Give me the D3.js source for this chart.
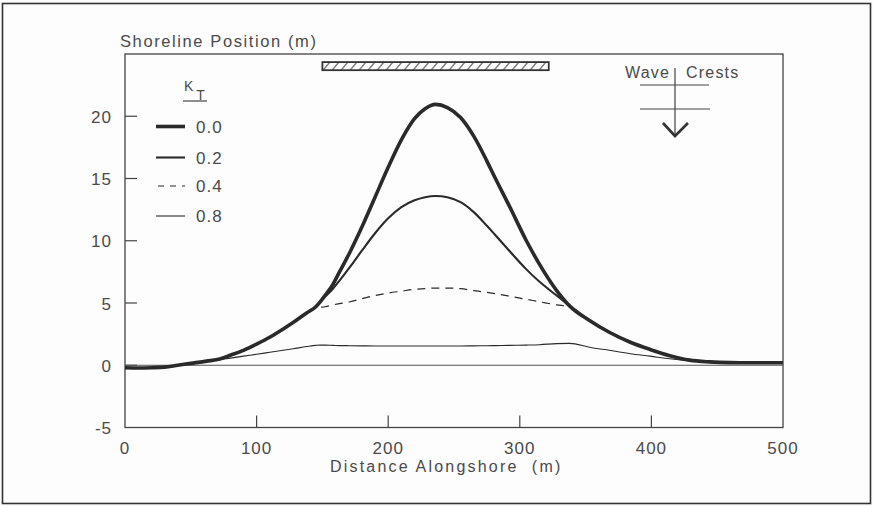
<!DOCTYPE html>
<html>
<head>
<meta charset="utf-8">
<script src="https://cdn.jsdelivr.net/npm/d3@7"></script>
<style>
  body { margin: 0; background: #fdfdfd; }
  text { font-family: "Liberation Sans", Arial, sans-serif; fill: #4a4a4a; }
</style>
</head>
<body>
<div id="chart"></div>
<script>
const width = 874;
const height = 506;

// Distance alongshore (m) where the shoreline was read
const xs = [0, 10, 20, 30, 40, 50, 62, 72, 80, 90, 100, 110, 120, 128, 138, 145, 148, 152, 158, 163,
  171, 180, 190, 200, 210, 220, 228, 236, 245, 255, 265, 275, 281, 292, 305, 315, 328, 338, 353, 368,
  384, 399, 414, 429, 444, 460, 480, 500];

// Shoreline position (m) for each transmission coefficient K_T
const k00 = [-0.2, -0.22, -0.2, -0.15, 0.0, 0.15, 0.33, 0.5, 0.8, 1.2, 1.7, 2.25, 2.9, 3.45, 4.2, 4.7, 5.05, 5.6, 6.5, 7.5,
  9.1, 11.1, 13.5, 15.9, 18.1, 19.8, 20.6, 20.95, 20.7, 19.9, 18.4, 16.4, 15.1, 12.8, 10.0, 8.1, 6.0, 4.75, 3.6, 2.65,
  1.85, 1.27, 0.77, 0.41, 0.27, 0.21, 0.2, 0.2];
const k02 = [-0.2, -0.22, -0.2, -0.15, 0.0, 0.15, 0.33, 0.5, 0.8, 1.2, 1.7, 2.25, 2.9, 3.45, 4.2, 4.7, 5.05, 5.5, 6.15, 6.8,
  7.9, 9.2, 10.6, 11.8, 12.7, 13.25, 13.5, 13.6, 13.5, 13.1, 12.3, 11.2, 10.5, 9.2, 7.7, 6.7, 5.6, 4.75, 3.6, 2.65,
  1.85, 1.27, 0.77, 0.41, 0.27, 0.21, 0.2, 0.2];
const k04 = [-0.2, -0.22, -0.2, -0.15, 0.0, 0.15, 0.33, 0.5, 0.8, 1.2, 1.7, 2.25, 2.9, 3.45, 4.2, 4.6, 4.65, 4.7, 4.85, 4.95,
  5.1, 5.35, 5.6, 5.8, 5.95, 6.1, 6.15, 6.2, 6.2, 6.15, 6.0, 5.85, 5.75, 5.55, 5.3, 5.1, 4.85, 4.7, 3.6, 2.65,
  1.85, 1.27, 0.77, 0.41, 0.27, 0.21, 0.2, 0.2];
const k08 = [-0.2, -0.22, -0.2, -0.15, 0.0, 0.15, 0.3, 0.45, 0.57, 0.73, 0.88, 1.04, 1.2, 1.33, 1.5, 1.6, 1.62, 1.62, 1.6, 1.58,
  1.57, 1.56, 1.55, 1.55, 1.55, 1.55, 1.55, 1.55, 1.55, 1.55, 1.56, 1.57, 1.58, 1.6, 1.62, 1.65, 1.74, 1.76, 1.45, 1.2,
  0.93, 0.73, 0.52, 0.36, 0.27, 0.21, 0.2, 0.2];

// initial shoreline
const initialX = [0, 500];
const initialY = [0, 0];

// breakwater extent (m) and its drawn band (in y units)
const breakwaterX = [150, 322];
const breakwaterY = [23.7, 24.35];

const xTicks = [0, 100, 200, 300, 400, 500];
const yTicks = [-5, 0, 5, 10, 15, 20];
const legendLabels = ["0.0", "0.2", "0.4", "0.8"];

const series = [
  { label: "0.0", values: k00, width: 3.6, dash: null },
  { label: "0.2", values: k02, width: 2.1, dash: null },
  { label: "0.4", values: k04, width: 1.2, dash: "8,6" },
  { label: "0.8", values: k08, width: 1.1, dash: null }
];

const x = d3.scaleLinear().domain([0, 500]).range([125, 783]);
const y = d3.scaleLinear().domain([-5, 25]).range([427.5, 54]);

const svg = d3.select("#chart").append("svg")
  .attr("width", width)
  .attr("height", height);

// outer frame
svg.append("rect")
  .attr("x", 2.5).attr("y", 3.5)
  .attr("width", 868).attr("height", 500)
  .attr("fill", "none").attr("stroke", "#333").attr("stroke-width", 1.6);

// hatch pattern for the breakwater
const defs = svg.append("defs");
const pat = defs.append("pattern")
  .attr("id", "hatch")
  .attr("patternUnits", "userSpaceOnUse")
  .attr("width", 9).attr("height", 9)
  .attr("patternTransform", "skewX(-40)");
pat.append("line")
  .attr("x1", 4).attr("y1", 0).attr("x2", 4).attr("y2", 9)
  .attr("stroke", "#333").attr("stroke-width", 1.2);

// plot box
svg.append("rect")
  .attr("x", x(0)).attr("y", y(25))
  .attr("width", x(500) - x(0)).attr("height", y(-5) - y(25))
  .attr("fill", "none").attr("stroke", "#444").attr("stroke-width", 1.3);

// ticks (inward)
svg.append("g").selectAll("line")
  .data(xTicks.filter(d => d > 0 && d < 500))
  .enter().append("line")
  .attr("x1", d => x(d)).attr("x2", d => x(d))
  .attr("y1", y(-5)).attr("y2", y(-5) - 12)
  .attr("stroke", "#444").attr("stroke-width", 1.2);

svg.append("g").selectAll("line")
  .data(yTicks.filter(d => d > -5))
  .enter().append("line")
  .attr("x1", x(0)).attr("x2", x(0) + 12)
  .attr("y1", d => y(d)).attr("y2", d => y(d))
  .attr("stroke", "#444").attr("stroke-width", 1.2);

// tick labels
svg.append("g").selectAll("text")
  .data(xTicks)
  .enter().append("text")
  .attr("x", d => x(d))
  .attr("y", 454)
  .attr("text-anchor", "middle")
  .attr("font-size", 17)
  .attr("letter-spacing", 1)
  .text(d => d);

svg.append("g").selectAll("text")
  .data(yTicks)
  .enter().append("text")
  .attr("x", 112)
  .attr("y", d => y(d) + 6.5)
  .attr("text-anchor", "end")
  .attr("font-size", 17)
  .attr("letter-spacing", 1)
  .text(d => d);

// axis titles
svg.append("text")
  .attr("x", 120).attr("y", 47)
  .attr("font-size", 16.5)
  .attr("letter-spacing", 1.6)
  .text("Shoreline Position (m)");

svg.append("text")
  .attr("x", 330).attr("y", 472)
  .attr("font-size", 16)
  .attr("letter-spacing", 2.2)
  .attr("xml:space", "preserve")
  .text("Distance Alongshore  (m)");

// initial shoreline
svg.append("line")
  .attr("x1", x(initialX[0])).attr("x2", x(initialX[1]))
  .attr("y1", y(initialY[0])).attr("y2", y(initialY[1]))
  .attr("stroke", "#555").attr("stroke-width", 1);

// shoreline curves
const line = d3.line()
  .x((d, i) => x(xs[i]))
  .y(d => y(d))
  .curve(d3.curveMonotoneX);

svg.append("g").selectAll("path")
  .data(series.slice().reverse())
  .enter().append("path")
  .attr("d", d => line(d.values))
  .attr("fill", "none")
  .attr("stroke", "#2a2a2a")
  .attr("stroke-width", d => d.width)
  .attr("stroke-dasharray", d => d.dash)
  .attr("stroke-linejoin", "round");

// breakwater
svg.append("rect")
  .attr("x", x(breakwaterX[0])).attr("y", y(breakwaterY[1]))
  .attr("width", x(breakwaterX[1]) - x(breakwaterX[0]))
  .attr("height", y(breakwaterY[0]) - y(breakwaterY[1]))
  .attr("fill", "url(#hatch)")
  .attr("stroke", "#333").attr("stroke-width", 1.8);

// legend
const kt = svg.append("text").attr("x", 184).attr("y", 91).attr("font-size", 14).attr("letter-spacing", 1);
kt.append("tspan").text("K");
kt.append("tspan").attr("dx", 2).attr("dy", 9).text("T");
svg.append("line")
  .attr("x1", 183).attr("x2", 207).attr("y1", 101).attr("y2", 101)
  .attr("stroke", "#444").attr("stroke-width", 1.2);

const legendRows = [126.5, 157.5, 186, 216];
const leg = svg.append("g").selectAll("g")
  .data(series)
  .enter().append("g")
  .attr("transform", (d, i) => `translate(0,${legendRows[i]})`);

leg.append("line")
  .attr("x1", d => d.dash ? 158 : 156).attr("x2", 185)
  .attr("stroke", "#2a2a2a")
  .attr("stroke-width", d => d.width)
  .attr("stroke-dasharray", d => d.dash ? "6,6" : null);

leg.append("text")
  .attr("x", 196).attr("y", 6)
  .attr("font-size", 17)
  .attr("letter-spacing", 1)
  .text((d, i) => legendLabels[i]);

// wave crest symbol
const wave = svg.append("g").attr("stroke", "#444").attr("fill", "none");
svg.append("text").attr("x", 625).attr("y", 78).attr("font-size", 16).attr("letter-spacing", 1.2).text("Wave");
svg.append("text").attr("x", 686).attr("y", 78).attr("font-size", 16).attr("letter-spacing", 1.2).text("Crests");
wave.append("line").attr("x1", 675).attr("x2", 675).attr("y1", 68).attr("y2", 135).attr("stroke-width", 1.2);
wave.append("line").attr("x1", 640).attr("x2", 709).attr("y1", 85).attr("y2", 85).attr("stroke-width", 1.2);
wave.append("line").attr("x1", 640).attr("x2", 710).attr("y1", 109).attr("y2", 109).attr("stroke-width", 1.2);
wave.append("path").attr("d", "M663,123 L675,136 L688,123").attr("stroke-width", 2.6).attr("stroke", "#333");
</script>
</body>
</html>
